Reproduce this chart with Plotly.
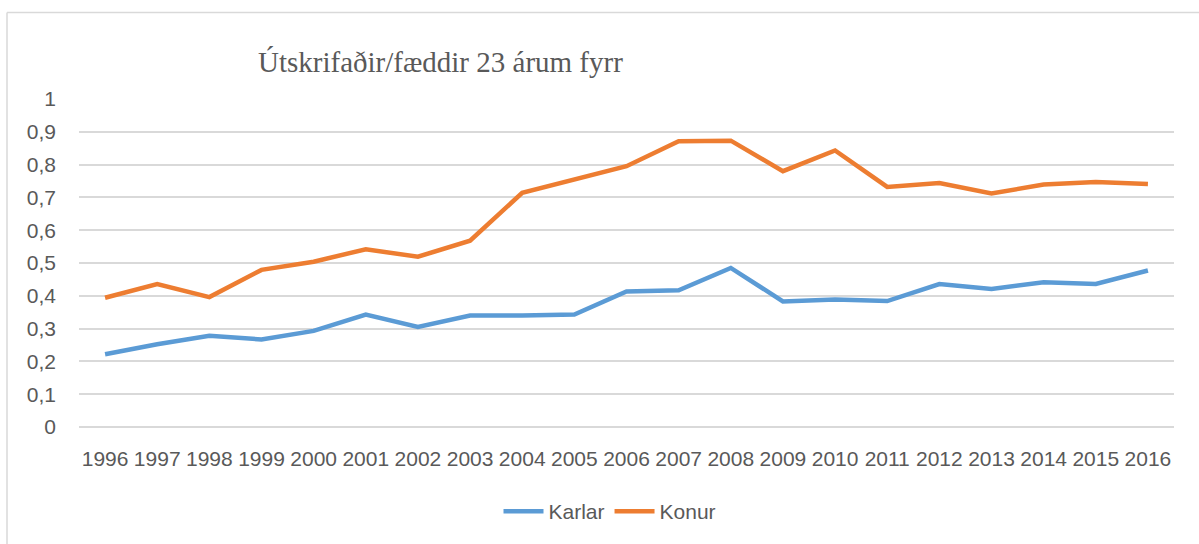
import plotly.graph_objects as go

years = [str(y) for y in range(1996, 2017)]
karlar = [0.222, 0.252, 0.278, 0.267, 0.293, 0.343, 0.305, 0.340, 0.340, 0.343,
          0.413, 0.417, 0.485, 0.383, 0.389, 0.384, 0.436, 0.421, 0.441, 0.436, 0.477]
konur = [0.394, 0.436, 0.396, 0.479, 0.504, 0.542, 0.519, 0.568, 0.714, 0.755,
         0.795, 0.871, 0.873, 0.780, 0.843, 0.732, 0.744, 0.712, 0.739, 0.747, 0.741]
y_ticks = [i / 10 for i in range(11)]
y_labels = ["0", "0,1", "0,2", "0,3", "0,4", "0,5", "0,6", "0,7", "0,8", "0,9", "1"]
title_text = "Útskrifaðir/fæddir 23 árum fyrr"

W, H = 1199, 544
L, R, T, B = 79, 25, 99, 115
pw, ph = W - L - R, H - T - B

def px2paper_x(px):
    return (px - L) / pw

def px2paper_y(py):
    return (H - B - py) / ph

fig = go.Figure()
fig.add_trace(go.Scatter(x=years, y=karlar, mode="lines", name="Karlar",
                         line=dict(color="#5B9BD5", width=4.5)))
fig.add_trace(go.Scatter(x=years, y=konur, mode="lines", name="Konur",
                         line=dict(color="#ED7D31", width=4.5)))

tick_font = dict(family="Liberation Sans, Arial, sans-serif", size=21, color="#595959")

fig.update_layout(
    width=W, height=H,
    margin=dict(l=L, r=R, t=T, b=B),
    paper_bgcolor="white", plot_bgcolor="white",
    showlegend=True,
    legend=dict(orientation="h", x=px2paper_x(610), xanchor="center",
                y=px2paper_y(514), yanchor="middle",
                font=dict(family="Liberation Sans, Arial, sans-serif", size=21, color="#595959"),
                itemwidth=40),
    xaxis=dict(type="category", range=[-0.5, 20.5], showgrid=False, showline=False,
               zeroline=False, tickfont=tick_font, ticks="", ticklabelstandoff=17),
    yaxis=dict(range=[0, 1], tickvals=y_ticks, ticktext=y_labels, showgrid=True,
               gridcolor="#D9D9D9", gridwidth=1.5, zeroline=True, zerolinecolor="#D9D9D9",
               zerolinewidth=1.5, showline=False, tickfont=tick_font, ticks="",
               ticklabelstandoff=22),
    annotations=[dict(text=title_text, xref="paper", yref="paper",
                      x=px2paper_x(440), y=px2paper_y(62), xanchor="center", yanchor="middle",
                      showarrow=False,
                      font=dict(family="Liberation Serif, Times New Roman, serif", size=29,
                                color="#595959"))],
    shapes=[
        dict(type="line", xref="paper", yref="paper", x0=px2paper_x(7), x1=px2paper_x(1205),
             y0=px2paper_y(12), y1=px2paper_y(12), line=dict(color="#D9D9D9", width=1.5)),
        dict(type="line", xref="paper", yref="paper", x0=px2paper_x(7), x1=px2paper_x(7),
             y0=px2paper_y(12), y1=px2paper_y(560), line=dict(color="#D9D9D9", width=1.5)),
    ],
)

fig.write_html("out.html", config={"displayModeBar": False},
               post_script="document.body.style.margin='0px';document.body.style.overflow='hidden';")
